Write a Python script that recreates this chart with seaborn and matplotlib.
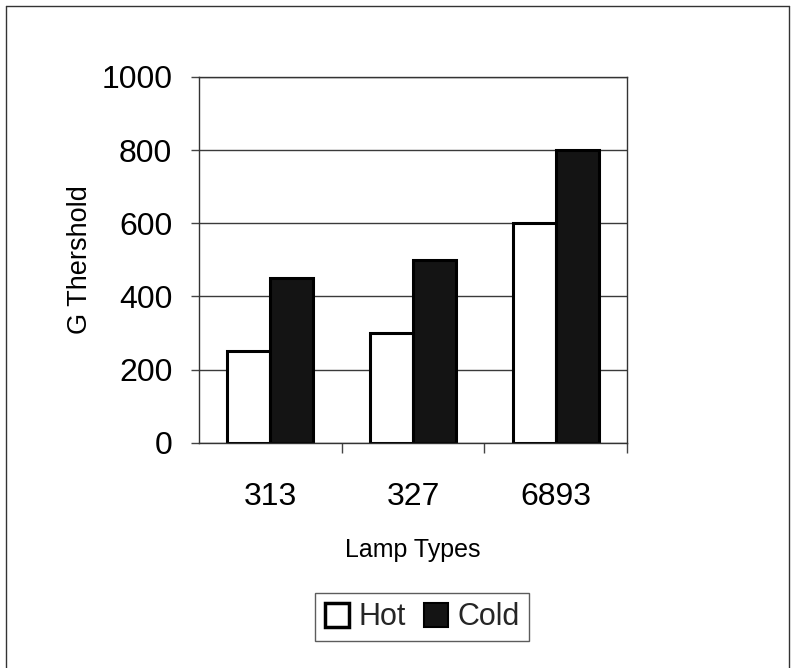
import matplotlib
matplotlib.use("Agg")
import matplotlib.pyplot as plt
import seaborn as sns
import pandas as pd
from matplotlib.lines import Line2D
from matplotlib.ticker import FixedLocator

lamp_types = ["313", "327", "6893"]
hot_values = [250, 300, 600]
cold_values = [450, 500, 800]
series_names = ["Hot", "Cold"]
y_ticks = [0, 200, 400, 600, 800, 1000]

df = pd.DataFrame({
    "Lamp Types": lamp_types * 2,
    "G Thershold": hot_values + cold_values,
    "Series": [series_names[0]] * 3 + [series_names[1]] * 3,
})

sns.set_theme(style="white")
plt.rcParams["font.family"] = ["Liberation Sans", "DejaVu Sans"]

fig = plt.figure(figsize=(7.95, 6.68), dpi=100)
ax = fig.add_axes([0.250, 0.337, 0.539, 0.548])

palette = {"Hot": "#ffffff", "Cold": "#141414"}
sns.barplot(data=df, x="Lamp Types", y="G Thershold", hue="Series",
            palette=palette, width=0.6, edgecolor="black", linewidth=2.2,
            saturation=1, ax=ax, legend=False)

ax.set_ylim(0, 1000)
ax.set_xlim(-0.5, 2.5)
ax.set_yticks(y_ticks)
ax.set_yticklabels([str(v) for v in y_ticks])
ax.tick_params(axis="y", which="major", length=6, width=1, color="#444", pad=13, left=True)
ax.tick_params(axis="x", which="major", length=0, pad=28)
ax.xaxis.set_minor_locator(FixedLocator([0.5, 1.5, 2.5]))
ax.tick_params(axis="x", which="minor", length=7, width=1, color="#444", bottom=True)
for lab in ax.get_yticklabels():
    lab.set_color("black")
    lab.set_fontsize(23)
for lab in ax.get_xticklabels():
    lab.set_color("black")
    lab.set_fontsize(23)

ax.yaxis.grid(True, color="#3a3a3a", linewidth=1)
ax.set_axisbelow(True)
for s in ["left", "right", "top", "bottom"]:
    ax.spines[s].set_visible(True)
    ax.spines[s].set_color("#333")
    ax.spines[s].set_linewidth(1)

ax.set_xlabel("Lamp Types", fontsize=18, labelpad=19, color="black")
ax.set_ylabel("G Thershold", fontsize=19.5, labelpad=6, color="black")

handles = [
    Line2D([0], [0], marker="s", linestyle="none", markersize=17,
           markerfacecolor="white", markeredgecolor="black", markeredgewidth=2.5),
    Line2D([0], [0], marker="s", linestyle="none", markersize=17,
           markerfacecolor="#141414", markeredgecolor="black", markeredgewidth=1.5),
]
leg = fig.legend(handles, series_names, loc="center", bbox_to_anchor=(0.531, 0.076),
                 ncol=2, fontsize=22, frameon=True, fancybox=False,
                 handlelength=0.8, handletextpad=0.3, columnspacing=0.6,
                 borderpad=0.3, borderaxespad=0)
leg.get_frame().set_edgecolor("#333")
leg.get_frame().set_linewidth(1)

# figure border
fig.add_artist(Line2D([0.008, 0.008], [0.0, 0.991], transform=fig.transFigure, color="#333", lw=1))
fig.add_artist(Line2D([0.008, 0.993], [0.991, 0.991], transform=fig.transFigure, color="#333", lw=1))
fig.add_artist(Line2D([0.993, 0.993], [0.0, 0.991], transform=fig.transFigure, color="#333", lw=1))

fig.savefig("out.png", dpi=100)
